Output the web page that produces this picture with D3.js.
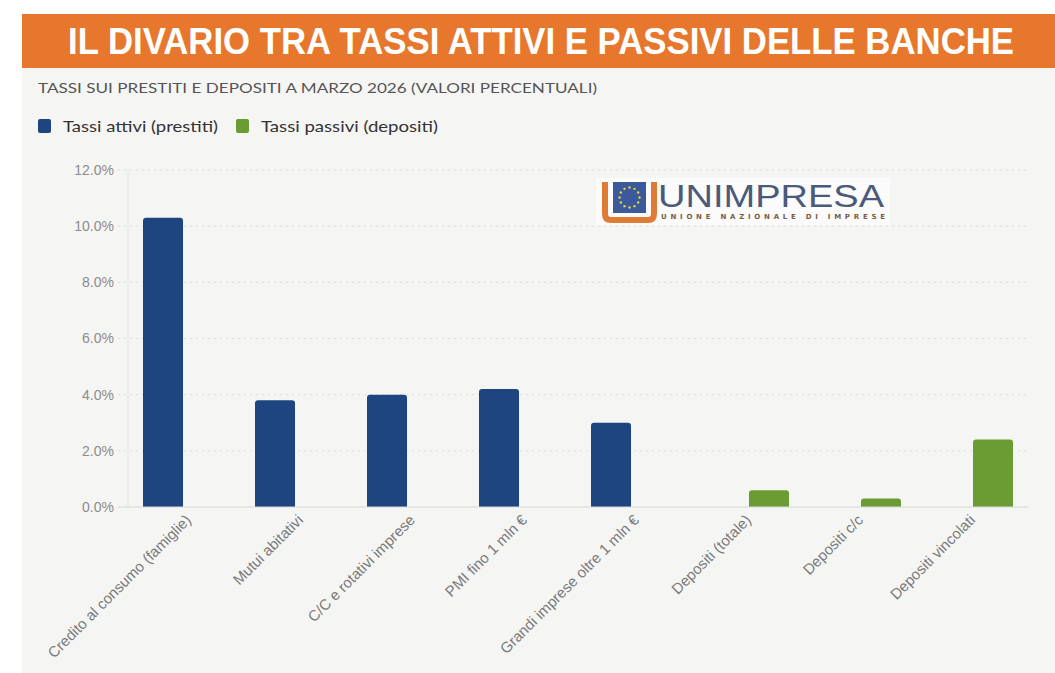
<!DOCTYPE html>
<html>
<head>
<meta charset="utf-8">
<script src="https://cdn.jsdelivr.net/npm/d3@7"></script>
<style>
  html, body { margin: 0; padding: 0; background: #fff; }
  svg { display: block; }
</style>
</head>
<body>
<div id="chart"></div>
<script>
// data
const categories = [
  "Credito al consumo (famiglie)",
  "Mutui abitativi",
  "C/C e rotativi imprese",
  "PMI fino 1 mln €",
  "Grandi imprese oltre 1 mln €",
  "Depositi (totale)",
  "Depositi c/c",
  "Depositi vincolati"
];
const series = ["Tassi attivi (prestiti)", "Tassi passivi (depositi)"];
const tassiAttivi = [10.3, 3.8, 4.0, 4.2, 3.0, null, null, null];
const tassiPassivi = [null, null, null, null, null, 0.6, 0.3, 2.4];
const yTicks = [0, 2, 4, 6, 8, 10, 12];

const W = 1055, H = 673;
const colors = { blue: "#1f4580", green: "#6b9b33", orange: "#e8772e", panel: "#f5f5f4" };

const svg = d3.select("#chart").append("svg").attr("width", W).attr("height", H);

// background panels
svg.append("rect").attr("x", 22).attr("y", 68).attr("width", W - 22).attr("height", H - 68).attr("fill", colors.panel);
svg.append("rect").attr("x", 22).attr("y", 14).attr("width", W - 22).attr("height", 54).attr("fill", colors.orange);

svg.append("text")
  .attr("x", 541).attr("y", 54)
  .attr("text-anchor", "middle")
  .attr("textLength", 946).attr("lengthAdjust", "spacingAndGlyphs")
  .style("font-family", "'Liberation Sans', Arial, sans-serif")
  .style("font-weight", "bold").style("font-size", "37px")
  .attr("fill", "#fff")
  .text("IL DIVARIO TRA TASSI ATTIVI E PASSIVI DELLE BANCHE");

svg.append("text")
  .attr("x", 38).attr("y", 93)
  .attr("textLength", 559).attr("lengthAdjust", "spacingAndGlyphs")
  .style("font-family", "Lato, 'Open Sans', sans-serif").style("font-size", "12.5px")
  .attr("fill", "#555")
  .text("TASSI SUI PRESTITI E DEPOSITI A MARZO 2026 (VALORI PERCENTUALI)");

// legend
const legend = svg.append("g").attr("transform", "translate(38,119)");
const legendX = [0, 198];
const legendLen = [155, 177];
series.forEach((s, i) => {
  const g = legend.append("g").attr("transform", `translate(${legendX[i]},0)`);
  g.append("rect").attr("width", 13).attr("height", 14).attr("rx", 2)
    .attr("fill", i === 0 ? colors.blue : colors.green);
  g.append("text").attr("x", 25).attr("y", 13)
    .attr("textLength", legendLen[i]).attr("lengthAdjust", "spacingAndGlyphs")
    .style("font-family", "Lato, 'Open Sans', sans-serif").style("font-size", "16px")
    .attr("fill", "#333")
    .text(s);
});

// scales
const x0 = d3.scaleBand().domain(categories).range([130, 1026]).paddingInner(0.1786).paddingOuter(0.0893);
const x1 = d3.scaleBand().domain(series).range([0, x0.bandwidth()]).paddingInner(0.13).paddingOuter(0.065);
const y = d3.scaleLinear().domain([0, 12]).range([507, 170]);

// grid
const grid = svg.append("g");
grid.selectAll("line").data(yTicks.filter(d => d > 0)).join("line")
  .attr("x1", 118).attr("x2", 1026)
  .attr("y1", d => y(d)).attr("y2", d => y(d))
  .attr("stroke", "#dcdcdc").attr("stroke-dasharray", "2,4");
svg.append("line").attr("x1", 128).attr("x2", 128).attr("y1", y(12)).attr("y2", y(0))
  .attr("stroke", "#e4e4e4");

// y axis
const yAxis = svg.append("g").attr("transform", "translate(118,0)")
  .call(d3.axisLeft(y).tickValues(yTicks).tickSize(0).tickPadding(4).tickFormat(d => d3.format(".1%")(d / 100)));
yAxis.select(".domain").remove();
yAxis.selectAll("text")
  .style("font-family", "'Liberation Sans', Arial, sans-serif").style("font-size", "14px")
  .attr("fill", "#8c8c8c");

// logo
const logo = svg.append("g").attr("transform", "translate(596,178)");
logo.append("rect").attr("width", 294).attr("height", 47).attr("fill", "#fff").attr("opacity", 0.6);
logo.append("path").attr("d", "M9,4 V36 Q9,42 15,42 H52 Q58,42 58,36 V4")
  .attr("fill", "none").attr("stroke", "#e07b35").attr("stroke-width", 6);
logo.append("rect").attr("x", 17).attr("y", 4).attr("width", 33).attr("height", 31).attr("fill", "#3a5a9a");
const stars = d3.range(12).map(i => i * Math.PI / 6);
logo.selectAll("circle.star").data(stars).join("circle").attr("class", "star")
  .attr("cx", a => 33.5 + 10 * Math.cos(a)).attr("cy", a => 19.5 + 10 * Math.sin(a))
  .attr("r", 1.2).attr("fill", "#e6d24a");
logo.append("text").attr("x", 62).attr("y", 29)
  .attr("textLength", 226).attr("lengthAdjust", "spacingAndGlyphs")
  .style("font-family", "'Liberation Sans', Arial, sans-serif").style("font-size", "32px")
  .attr("fill", "#4b5a7a")
  .text("UNIMPRESA");
logo.append("text").attr("x", 65).attr("y", 41)
  .attr("textLength", 224).attr("lengthAdjust", "spacing")
  .style("font-family", "'DejaVu Sans', sans-serif").style("font-weight", "bold").style("font-size", "7px")
  .attr("fill", "#7b5a45")
  .text("UNIONE NAZIONALE DI IMPRESE");

// bars with rounded tops
function barPath(x, w, yTop, yBase, r) {
  r = Math.min(r, (yBase - yTop) / 2);
  return `M${x},${yBase} V${yTop + r} Q${x},${yTop} ${x + r},${yTop} H${x + w - r} Q${x + w},${yTop} ${x + w},${yTop + r} V${yBase} Z`;
}
const rows = categories.map((c, i) => ({ cat: c, values: [tassiAttivi[i], tassiPassivi[i]] }));
const groups = svg.append("g").selectAll("g").data(rows).join("g")
  .attr("transform", d => `translate(${x0(d.cat)},0)`);
groups.selectAll("path")
  .data(d => d.values.map((v, j) => ({ s: series[j], v })).filter(e => e.v != null))
  .join("path")
  .attr("d", e => barPath(x1(e.s), x1.bandwidth(), y(e.v), y(0), 3))
  .attr("fill", e => e.s === series[0] ? colors.blue : colors.green);

// baseline
svg.append("line").attr("x1", 118).attr("x2", 1028).attr("y1", y(0)).attr("y2", y(0))
  .attr("stroke", "#d6d6d6");

// x labels
svg.append("g").selectAll("text").data(categories).join("text")
  .attr("transform", d => `translate(${x0(d) + x0.bandwidth() / 2 + 6},${y(0) + 14}) rotate(-45)`)
  .attr("text-anchor", "end")
  .style("font-family", "'Liberation Sans', Arial, sans-serif").style("font-size", "15px")
  .attr("fill", "#7a7a7a")
  .text(d => d);
</script>
</body>
</html>
